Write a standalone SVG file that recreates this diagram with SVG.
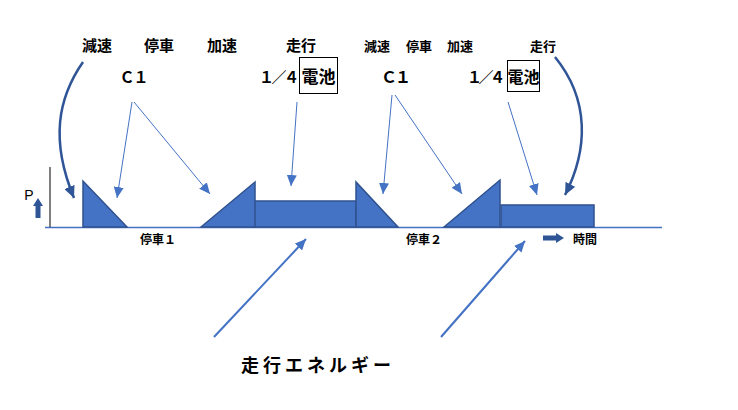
<svg xmlns="http://www.w3.org/2000/svg" width="738" height="410" viewBox="0 0 738 410">
<style>
.t{font-family:"Noto Sans CJK JP","Noto Sans",sans-serif;font-weight:bold;fill:#000;text-anchor:middle}
.shape{fill:#4472C4;stroke:#2F528F;stroke-width:1.5;stroke-linejoin:miter}
.thin{fill:none;stroke:#4472C4;stroke-width:1}
.mid{fill:none;stroke:#4472C4;stroke-width:2}
.curve{fill:none;stroke:#2F5597;stroke-width:2.5}
</style>
<defs>
<marker id="ah" markerUnits="userSpaceOnUse" markerWidth="12" markerHeight="10" refX="11" refY="5" orient="auto"><path d="M0,0 L11,5 L0,10 Z" fill="#4472C4"/></marker>
<marker id="ahd" markerUnits="userSpaceOnUse" markerWidth="13" markerHeight="11" refX="12" refY="5.5" orient="auto"><path d="M0,0 L12,5.5 L0,11 Z" fill="#2F5597"/></marker>
</defs>
<rect width="738" height="410" fill="#fff"/>
<g id="axes">
<line x1="45" y1="227.5" x2="662" y2="227.5" stroke="#4472C4" stroke-width="1.5"/>
<line x1="50" y1="167" x2="50" y2="227" stroke="#000" stroke-width="1"/>
<text x="29" y="200" style="font-family:'Liberation Sans',sans-serif;font-size:14px;fill:#000" text-anchor="middle">P</text>
<path d="M35.5,218 V206 H33 L38,198 L43,206 H40.5 V218 Z" fill="#2F5597"/>
<path d="M543,235.5 H556 V233 L564,238 L556,243 V240.5 H543 Z" fill="#2F5597"/>
<text class="t" x="585" y="244" font-size="12">時間</text>
</g>
<g id="shapes">
<path class="shape" d="M83,181 L83,227 L127,227 Z"/>
<rect class="shape" x="252" y="201" width="104" height="26"/>
<path class="shape" d="M201,227 L255,182 L255,227 Z"/>
<path class="shape" d="M356,182 L356,227 L398,227 Z"/>
<rect class="shape" x="501" y="205" width="93" height="22"/>
<path class="shape" d="M444,227 L500,180 L500,227 Z"/>
</g>
<g id="labels-left">
<text class="t" x="97" y="51" font-size="15">減速</text>
<text class="t" x="159" y="51" font-size="15">停車</text>
<text class="t" x="222" y="51" font-size="15">加速</text>
<text class="t" x="301" y="51" font-size="15">走行</text>
<text class="t" x="134" y="83" font-size="15" textLength="29" lengthAdjust="spacing">Ｃ１</text>
<text class="t" x="279" y="83" font-size="15" textLength="40" lengthAdjust="spacing">１／４</text>
<rect x="299.5" y="57.5" width="38" height="36" fill="none" stroke="#000" stroke-width="1"/>
<text class="t" x="318.5" y="83" font-size="17">電池</text>
<text class="t" x="158" y="244" font-size="12">停車１</text>
</g>
<g id="labels-right">
<text class="t" x="377" y="51" font-size="13">減速</text>
<text class="t" x="419" y="51" font-size="13">停車</text>
<text class="t" x="460" y="51" font-size="13">加速</text>
<text class="t" x="543" y="51" font-size="13">走行</text>
<text class="t" x="396" y="83" font-size="16" textLength="30" lengthAdjust="spacing">Ｃ１</text>
<text class="t" x="486" y="83" font-size="15" textLength="38" lengthAdjust="spacing">１／４</text>
<rect x="507.5" y="60.5" width="32" height="31" fill="none" stroke="#000" stroke-width="1"/>
<text class="t" x="523.5" y="83" font-size="16">電池</text>
<text class="t" x="424" y="244" font-size="12">停車２</text>
</g>
<g id="title">
<text class="t" x="318" y="372" font-size="18" letter-spacing="4">走行エネルギー</text>
</g>
<g id="connectors">
<path class="curve" d="M83,62 C58,98 50,140 74,198" marker-end="url(#ahd)"/>
<path class="curve" d="M555,57 C590,100 588,150 565,195" marker-end="url(#ahd)"/>
<line class="thin" x1="132" y1="102" x2="117" y2="198" marker-end="url(#ah)"/>
<line class="thin" x1="134" y1="102" x2="210" y2="194" marker-end="url(#ah)"/>
<line class="thin" x1="297" y1="102" x2="291" y2="186" marker-end="url(#ah)"/>
<line class="thin" x1="392" y1="95" x2="383" y2="194" marker-end="url(#ah)"/>
<line class="thin" x1="395" y1="95" x2="462" y2="194" marker-end="url(#ah)"/>
<line class="thin" x1="508" y1="102" x2="537" y2="195" marker-end="url(#ah)"/>
<line class="mid" x1="214" y1="337" x2="306" y2="239" marker-end="url(#ah)"/>
<line class="mid" x1="441" y1="337" x2="525" y2="241" marker-end="url(#ah)"/>
</g>
</svg>
